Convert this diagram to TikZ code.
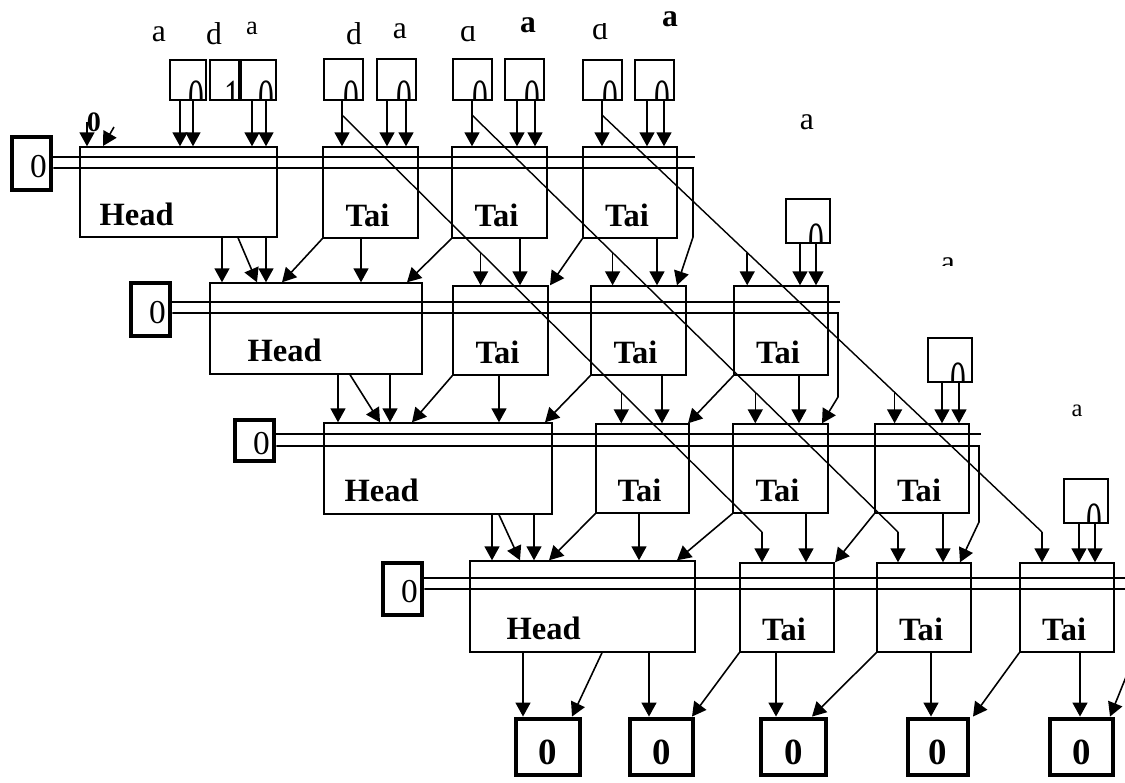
\documentclass[tikz,border=0pt]{standalone}
\usepackage{fontspec}
\usepackage{graphicx}
\setmainfont{Liberation Serif}
\usetikzlibrary{arrows.meta,fit,calc}

\tikzset{
  box/.style={draw, line width=0.8pt, inner sep=0pt},
  zbox/.style={draw, line width=2.8pt, inner sep=0pt},
  glyph/.style={inner sep=0pt, anchor=north, font=\fontsize{18}{18}\selectfont},
  arr/.style={-{Triangle[length=0.28cm,width=0.3cm]}, line width=0.9pt},
  bus/.style={line width=0.8pt},
  lbl/.style={inner sep=0pt, font=\fontsize{18.5}{18.5}\selectfont\bfseries},
  ltr/.style={inner sep=0pt, font=\fontsize{18}{18}\selectfont},
  sltr/.style={inner sep=0pt, font=\fontsize{14}{14}\selectfont},
  bltr/.style={inner sep=0pt, font=\fontsize{18}{18}\selectfont\bfseries},
}

\begin{document}
\begin{tikzpicture}[x=0.02cm, y=-0.02cm]

    \useasboundingbox (0,0) rectangle (1125,782);
    \clip (0,0) rectangle (1125,782);

    % ============================================================
    % ROW 1
    % ============================================================
    \node[zbox, fit={(12,137) (51,190)}] (Z1) {};
    \node[box, fit={(80,147) (277,237)}] (H1) {};
    \node[box, fit={(323,147) (418,238)}] (T11) {};
    \node[box, fit={(452,147) (547,238)}] (T12) {};
    \node[box, fit={(583,147) (677,238)}] (T13) {};

    % top inputs
    \node[box, fit={(170,60) (206,100)}] (A) {};
    \node[box, fit={(210,60) (239,100)}] (B) {};
    \node[box, fit={(241,60) (276,100)}] (C) {};
    \node[box, fit={(324,59) (363,100)}] (D) {};
    \node[box, fit={(377,59) (416,100)}] (E) {};
    \node[box, fit={(453,59) (492,100)}] (F) {};
    \node[box, fit={(505,59) (544,100)}] (G) {};
    \node[box, fit={(583,60) (622,100)}] (H) {};
    \node[box, fit={(635,60) (674,100)}] (I) {};

    \node[ltr] at (159,34) {a};
    \node[ltr] at (214,34) {d};
    \node[inner sep=0pt, font=\fontsize{15}{15}\selectfont] at (252,28) {a};
    \node[ltr] at (354,34) {d};
    \node[ltr] at (400,31) {a};
    \begin{scope}
      \clip (440,26) rectangle (500,60);
      \node[ltr] at (468,31) {d};
    \end{scope}
    \node[bltr] at (528,25) {a};
    \begin{scope}
      \clip (570,23) rectangle (630,60);
      \node[ltr] at (600,29) {d};
    \end{scope}
    \node[bltr] at (670,19) {a};
    \node[inner sep=0pt, font=\fontsize{16}{16}\selectfont\bfseries] (L0) at (94,122) {0};

    % ============================================================
    % ROW 2
    % ============================================================
    \node[zbox, fit={(131,283) (170,336)}] (Z2) {};
    \node[box, fit={(210,283) (422,374)}] (H2) {};
    \node[box, fit={(453,286) (548,375)}] (T21) {};
    \node[box, fit={(591,286) (686,375)}] (T22) {};
    \node[box, fit={(734,286) (828,375)}] (T23) {};
    \node[box, fit={(786,199) (830,243)}] (R2) {};
    \node[ltr] at (807,122) {a};
    \begin{scope}
      \clip (930,240) rectangle (970,265.5);
      \node[ltr] at (948,265) {a};
    \end{scope}

    % ============================================================
    % ROW 3
    % ============================================================
    \node[zbox, fit={(235,420) (274,461)}] (Z3) {};
    \node[box, fit={(324,423) (552,514)}] (H3) {};
    \node[box, fit={(596,424) (689,513)}] (T31) {};
    \node[box, fit={(733,424) (828,513)}] (T32) {};
    \node[box, fit={(875,424) (969,513)}] (T33) {};
    \node[box, fit={(928,338) (972,382)}] (R3) {};
    \node[sltr] at (1077,411) {a};

    % ============================================================
    % ROW 4
    % ============================================================
    \node[zbox, fit={(383,563) (422,615)}] (Z4) {};
    \node[box, fit={(470,561) (695,652)}] (H4) {};
    \node[box, fit={(740,563) (834,652)}] (T41) {};
    \node[box, fit={(877,563) (971,652)}] (T42) {};
    \node[box, fit={(1020,563) (1114,652)}] (T43) {};
    \node[box, fit={(1064,479) (1108,523)}] (R4) {};

    % half-hidden digits in the input boxes
    \foreach \b/\v in {A/0, B/1, C/0, D/0, E/0, F/0, G/0, H/0, I/0, R2/0, R3/0, R4/0} {
      \begin{scope}
        \clip (\b.south west) rectangle (\b.north east);
        \node[glyph] at ([xshift=0.16cm,yshift=0.4cm]\b.south) {\scalebox{1}[1.6]{\v}};
      \end{scope}
    }

    % ============================================================
    % OUTPUTS
    % ============================================================
    \foreach \n/\a/\b in {O1/516/580, O2/630/693, O3/761/826, O4/908/968, O5/1050/1113} {
      \node[zbox, fit={(\a,719) (\b,775)}] (\n) {};
      \node[inner sep=0pt, font=\fontsize{21}{21}\selectfont\bfseries]
        at ([yshift=-0.1cm]\n.center) {0};
    }

    % ============================================================
    % BOX TEXTS
    % ============================================================
    \foreach \z in {Z1,Z2,Z3,Z4}
      \node[inner sep=0pt, font=\fontsize{19}{19}\selectfont]
        at ([xshift=0.14cm,yshift=-0.06cm]\z.center) {0};
    \node[lbl, anchor=west] at ([xshift=0.4cm,yshift=0.46cm]H1.south west) {Head};
    \node[lbl, anchor=west] at ([xshift=0.76cm,yshift=0.48cm]H2.south west) {Head};
    \node[lbl, anchor=west] at ([xshift=0.42cm,yshift=0.48cm]H3.south west) {Head};
    \node[lbl, anchor=west] at ([xshift=0.74cm,yshift=0.48cm]H4.south west) {Head};
    \foreach \t in {T11,T12,T13,T21,T22,T23,T31,T32,T33,T41,T42,T43}
      \node[lbl] at ([xshift=-0.06cm,yshift=0.46cm]\t.south) {Tai};

    % ============================================================
    % DOUBLE LINES AND TURNS
    % ============================================================
    \draw[bus] (Z1.east |- 0,157) -- (695,157);
    \draw[arr] (Z1.east |- 0,168) -- (693,168) -- (693,237) -- (677,0 |- T22.north);
    \draw[bus] (Z2.east |- 0,302) -- (840,302);
    \draw[arr] (Z2.east |- 0,313) -- (838,313) -- (838,397) -- (822,0 |- T32.north);
    \draw[bus] (Z3.east |- 0,434) -- (981,434);
    \draw[arr] (Z3.east |- 0,446) -- (979,446) -- (979,522) -- (960,0 |- T42.north);
    \draw[bus] (Z4.east |- 0,578) -- (1130,578);
    \draw[arr] (Z4.east |- 0,589) -- (1132,589) -- (1132,662) -- (1110,0 |- O5.north);

    % ============================================================
    % LONG DIAGONALS
    % ============================================================
    \coordinate (g1a) at (342,115); \coordinate (g1b) at (762,532);
    \coordinate (g2a) at (472,115); \coordinate (g2b) at (898,532);
    \coordinate (g3a) at (602,115); \coordinate (g3b) at (1042,532);
    \draw[bus] (g1a) -- (g1b);
    \draw[bus] (g2a) -- (g2b);
    \draw[bus] (g3a) -- (g3b);
    \draw[arr] (g1b) -- (g1b |- T41.north);
    \draw[arr] (g2b) -- (g2b |- T42.north);
    \draw[arr] (g3b) -- (g3b |- T43.north);
    \foreach \g/\up/\dn in {g1/T21/T31, g2/T22/T32, g3/T23/T33} {
      \coordinate (\g u) at ($(\g a)!0.33!(\g b)$);
      \coordinate (\g d) at ($(\g a)!0.665!(\g b)$);
      \draw[arr] (\g u) -- (\g u |- \up.north);
      \draw[arr] (\g d) -- (\g d |- \dn.north);
    }

    % ============================================================
    % STRAIGHT ARROWS
    % ============================================================
    \foreach \x/\s/\t in {180/A/H1, 193/A/H1, 252/C/H1, 266/C/H1,
        342/D/T11, 387/E/T11, 406/E/T11, 472/F/T12, 517/G/T12, 535/G/T12,
        602/H/T13, 647/I/T13, 664/I/T13,
        222/H1/H2, 266/H1/H2, 361/T11/H2, 520/T12/T21, 657/T13/T22,
        800/R2/T23, 816/R2/T23,
        338/H2/H3, 390/H2/H3, 499/T21/H3, 662/T22/T31, 799/T23/T32,
        942/R3/T33, 959/R3/T33,
        492/H3/H4, 534/H3/H4, 639/T31/H4, 806/T32/T41, 943/T33/T42,
        1079/R4/T43, 1095/R4/T43,
        523/H4/O1, 649/H4/O2, 776/T41/O3, 931/T42/O4, 1080/T43/O5}
      \draw[arr] (\x,0 |- \s.south) -- (\x,0 |- \t.north);
    \draw[arr] (87,0 |- L0.center) -- (87,0 |- H1.north);
    \draw[arr] (114,127) -- (103,146);

    % ============================================================
    % SLANTED ARROWS
    % ============================================================
    \draw[arr] (238,0 |- H1.south) -- (257,0 |- H2.north);
    \draw[arr] (350,0 |- H2.south) -- (380,0 |- H3.north);
    \draw[arr] (499,0 |- H3.south) -- (520,0 |- H4.north);
    \draw[arr] (602,0 |- H4.south) -- (572,0 |- O1.north);
    \foreach \s/\x/\t in {T11/282/H2, T12/407/H2, T13/550/T21,
        T21/412/H3, T22/545/H3, T23/688/T31,
        T31/549/H4, T32/677/H4, T33/835/T41,
        T41/692/O2, T42/812/O3, T43/973/O4}
      \draw[arr] (\s.south west) -- (\x,0 |- \t.north);

\end{tikzpicture}
\end{document}
